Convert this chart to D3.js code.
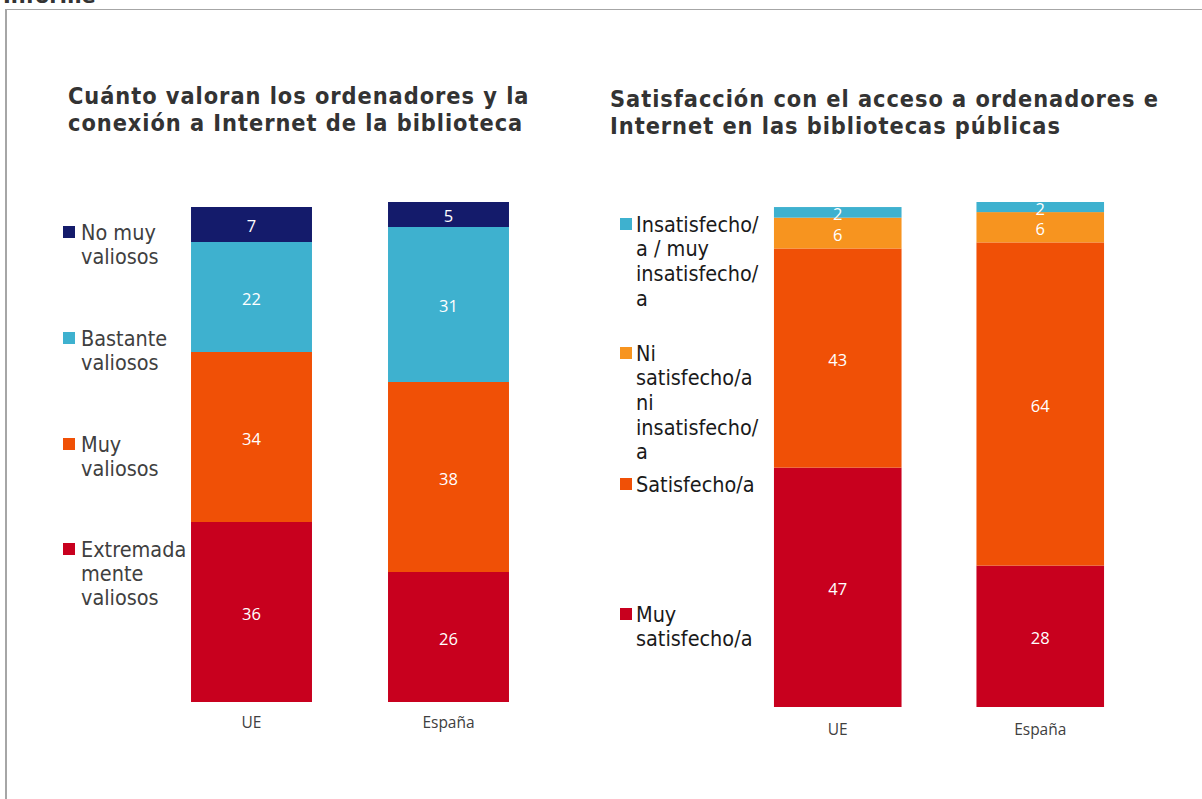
<!DOCTYPE html>
<html><head><meta charset="utf-8">
<script src="https://cdn.jsdelivr.net/npm/d3@7"></script>
<style>
html,body{margin:0;padding:0;background:#fff;}
svg{display:block;}
</style></head>
<body>
<svg id="c" width="1202" height="799"></svg>
<script>
// ---- data ----
const categories = ["UE", "España"];

// Chart 1: Cuánto valoran...
const valorKeys = ["Extremadamente valiosos", "Muy valiosos", "Bastante valiosos", "No muy valiosos"];
const valorExtremada = [36, 26];
const valorMuy = [34, 38];
const valorBastante = [22, 31];
const valorNoMuy = [7, 5];
const valorLegend = [
  ["No muy", "valiosos"],
  ["Bastante", "valiosos"],
  ["Muy", "valiosos"],
  ["Extremada", "mente", "valiosos"]
];

// Chart 2: Satisfacción... (labels shown rounded)
const satisKeys = ["Muy satisfecho/a", "Satisfecho/a", "Ni satisfecho/a ni insatisfecho/a", "Insatisfecho/a / muy insatisfecho/a"];
const satisMuy = [47.4, 28];
const satisSatisfecho = [43.4, 64];
const satisNi = [6.1, 6];
const satisInsat = [2.1, 2];
const satisLegend = [
  ["Insatisfecho/", "a / muy", "insatisfecho/", "a"],
  ["Ni", "satisfecho/a", "ni", "insatisfecho/", "a"],
  ["Satisfecho/a"],
  ["Muy", "satisfecho/a"]
];

const title1 = ["Cuánto valoran los ordenadores y la", "conexión a Internet de la biblioteca"];
const title2 = ["Satisfacción con el acceso a ordenadores e", "Internet en las bibliotecas públicas"];

// ---- drawing ----
const svg = d3.select("#c");
const FONT = "'DejaVu Sans', Verdana, sans-serif";
const NUMFONT = "'Open Sans', 'DejaVu Sans', sans-serif";
const STRETCH = 1.08;

// page frame
svg.append("text").attr("x", 3).attr("y", 3).attr("font-family", FONT)
  .attr("font-weight", "bold").attr("font-size", 21).attr("fill", "#333").text("Informe");
svg.append("line").attr("x1", 5).attr("x2", 1202).attr("y1", 9.5).attr("y2", 9.5).attr("stroke", "#a6a6a6").attr("stroke-width", 1);
svg.append("line").attr("x1", 6).attr("x2", 6).attr("y1", 9).attr("y2", 799).attr("stroke", "#a6a6a6").attr("stroke-width", 2);

function drawChart(cfg) {
  const g = svg.append("g");
  const rows = categories.map((c, i) => {
    const o = {cat: c};
    cfg.keys.forEach((k, j) => o[k] = cfg.series[j][i]);
    return o;
  });
  const stack = d3.stack().keys(cfg.keys)(rows);
  const x = d3.scaleBand().domain(categories).range(cfg.xRange)
    .paddingInner(cfg.pad).paddingOuter(cfg.pad / 2);
  const y = d3.scaleLinear().domain([0, 100]).range(cfg.yRange);

  const layers = g.selectAll("g.layer").data(stack).join("g")
    .attr("fill", (d, i) => cfg.colors[i]);
  layers.selectAll("rect").data(d => d).join("rect")
    .attr("x", d => x(d.data.cat))
    .attr("width", x.bandwidth())
    .attr("y", d => y(d[1]))
    .attr("height", d => y(d[0]) - y(d[1]));
  layers.selectAll("text").data(d => d).join("text")
    .attr("x", d => x(d.data.cat) + x.bandwidth() / 2)
    .attr("y", d => (y(d[0]) + y(d[1])) / 2 + 1)
    .attr("text-anchor", "middle").attr("dominant-baseline", "central")
    .attr("font-family", NUMFONT).attr("font-size", 16.5).attr("fill", "#fff")
    .text(d => Math.round(d[1] - d[0]));

  // category axis labels
  const axis = d3.axisBottom(x).tickSize(0).tickPadding(0);
  const ag = g.append("g").attr("transform", `translate(0,${cfg.yRange[0] + cfg.catOffset})`).call(axis);
  ag.select(".domain").remove();
  ag.selectAll("text").attr("font-family", NUMFONT).attr("font-size", 15.5).attr("fill", "#404040")
    .attr("dy", "0.35em");

  // title
  const tg = g.append("g").attr("transform", `translate(${cfg.titlePos[0]},${cfg.titlePos[1]}) scale(1,${STRETCH})`);
  const t = tg.append("text").attr("font-family", FONT).attr("font-weight", "bold")
    .attr("font-size", cfg.titleSize).attr("fill", "#333").attr("letter-spacing", cfg.titleLS);
  cfg.title.forEach((line, i) => {
    t.append("tspan").attr("x", 0).attr("y", i * 27 / STRETCH).text(line);
  });

  // legend
  cfg.legend.forEach((lines, i) => {
    const ly = cfg.legendY[i];
    const colorIdx = cfg.keys.length - 1 - i;
    g.append("rect").attr("x", cfg.legendX).attr("y", ly - 6).attr("width", 12).attr("height", 12)
      .attr("fill", cfg.colors[colorIdx]);
    const lg = g.append("g").attr("transform", `translate(${cfg.legendX + cfg.textOff},${ly}) scale(1,${STRETCH})`);
    const lt = lg.append("text").attr("font-family", FONT).attr("font-size", cfg.legendSize)
      .attr("fill", cfg.legendColor);
    lines.forEach((ln, j) => {
      lt.append("tspan").attr("x", 0).attr("y", j * cfg.lineH / STRETCH)
        .attr("dy", "0.36em").text(ln);
    });
  });
}

drawChart({
  keys: valorKeys,
  series: [valorExtremada, valorMuy, valorBastante, valorNoMuy],
  colors: ["#C8001E", "#F05006", "#3EB1CF", "#141B6B"],
  xRange: [153, 547], pad: 0.386,
  yRange: [702, 202], catOffset: 21,
  title: title1, titlePos: [68, 104], titleSize: 21, titleLS: 0.95,
  legend: valorLegend, legendX: 63, textOff: 18, legendY: [232, 338, 444, 549],
  legendSize: 19.3, legendColor: "#404040", lineH: 24.5
});

drawChart({
  keys: satisKeys,
  series: [satisMuy, satisSatisfecho, satisNi, satisInsat],
  colors: ["#C8001E", "#F05006", "#F7941F", "#3EB1CF"],
  xRange: [736.5, 1141.5], pad: 0.37,
  yRange: [707, 202], catOffset: 23,
  title: title2, titlePos: [610, 107], titleSize: 21, titleLS: 0.95,
  legend: satisLegend, legendX: 620, textOff: 16, legendY: [224, 353, 484, 614],
  legendSize: 19.3, legendColor: "#1a1a1a", lineH: 24.7
});
</script>
</body></html>
